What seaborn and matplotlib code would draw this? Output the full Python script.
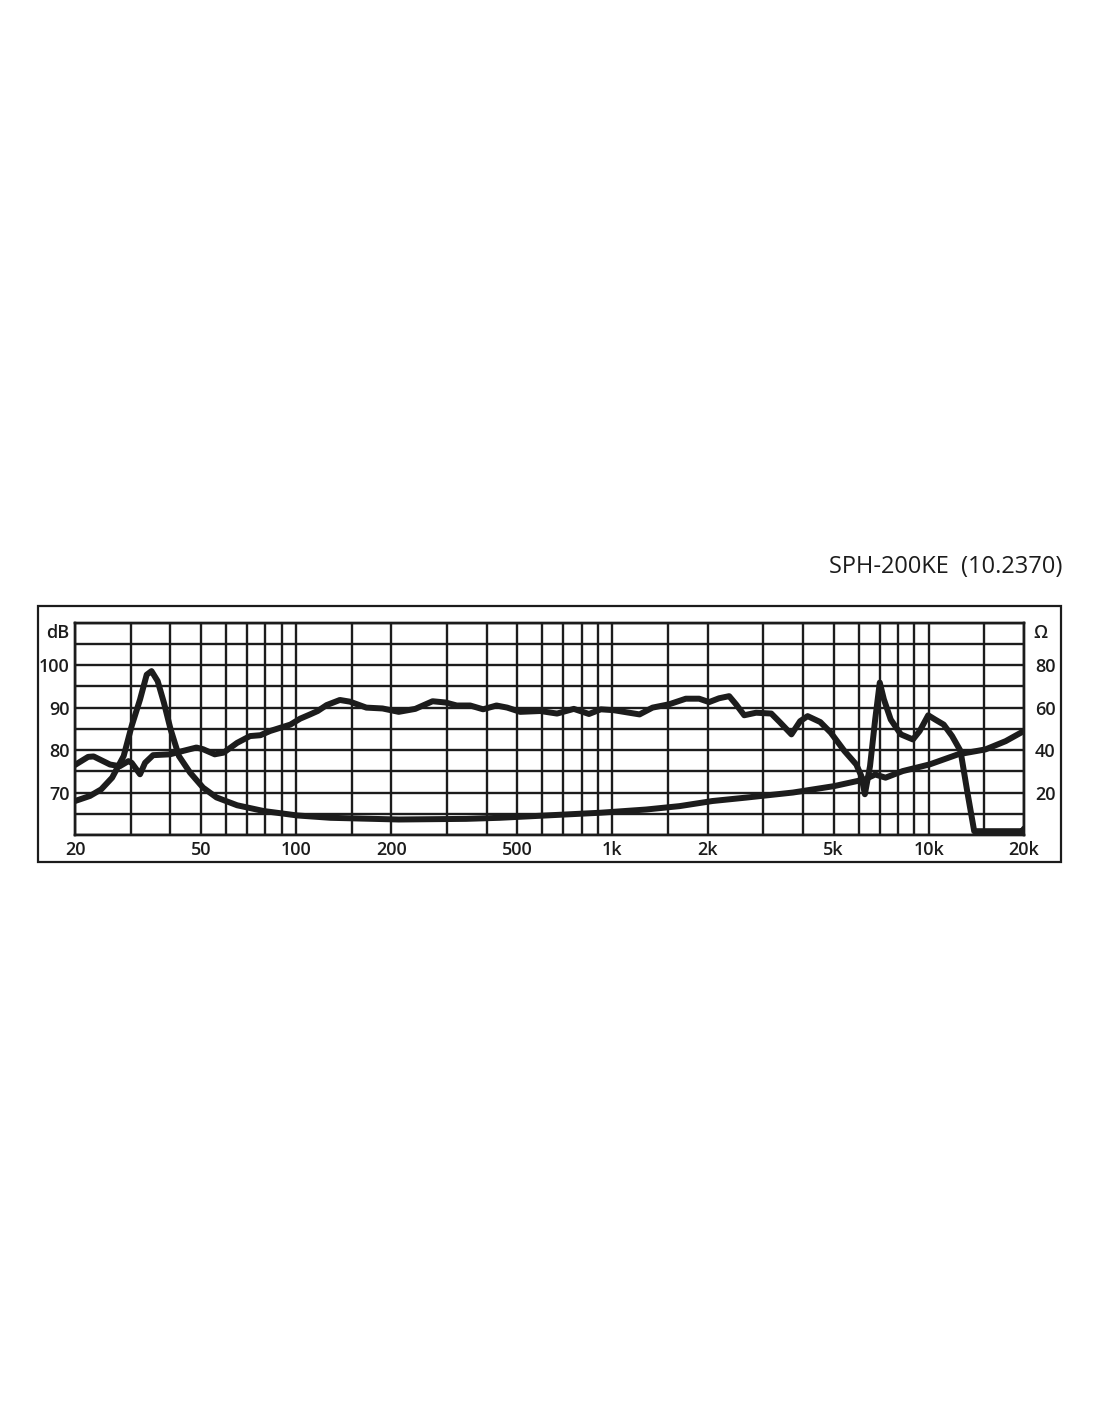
import numpy as np
import pandas as pd
import seaborn as sns
import matplotlib.pyplot as plt
from matplotlib.patches import Rectangle

# frequency response (dB SPL)
spl_freq = [20, 22, 22.9, 25.8, 27.7, 29.5, 30.2, 32.1, 33.3, 35.3, 39.9, 43.9, 48.4,
            50.8, 55.3, 59, 65.1, 71.5, 77.1, 82.8, 95.9, 103, 110.7, 117, 124.9,
            137.5, 148, 166.7, 187.6, 211, 238, 270, 297, 322, 355, 390, 430, 465,
            511, 591, 668, 755, 843, 919, 1008, 1218, 1339, 1513, 1706, 1880, 2021,
            2173, 2339, 2457, 2610, 2845, 3178, 3379, 3680, 3920, 4140, 4540, 4900,
            5410, 5900, 6120, 6280, 6520, 6770, 7000, 7210, 7580, 8160, 8910, 9360,
            9960, 10470, 11150, 11850, 12600, 13250, 13920, 19750, 20000]
spl_db = [76.5, 78.4, 78.5, 76.6, 76.2, 77.4, 77.0, 74.3, 77.0, 78.8, 79.0, 79.8, 80.6,
          80.2, 79.0, 79.4, 81.7, 83.3, 83.5, 84.5, 86.0, 87.4, 88.4, 89.2, 90.6,
          91.8, 91.4, 90.0, 89.8, 89.0, 89.7, 91.5, 91.2, 90.5, 90.5, 89.6, 90.5, 90.0,
          89.0, 89.2, 88.6, 89.7, 88.5, 89.6, 89.4, 88.4, 90.0, 90.8, 92.1, 92.1, 91.3,
          92.2, 92.7, 90.8, 88.2, 88.8, 88.6, 86.6, 83.7, 86.8, 88.0, 86.6, 84.1,
          79.8, 76.6, 73.9, 69.6, 76.2, 87.2, 95.9, 92.0, 87.2, 83.7, 82.5, 84.5,
          88.2, 87.2, 86.0, 83.3, 79.8, 70.0, 60.9, 60.9, 61.5]

# impedance (ohm)
imp_freq = [20, 22.3, 24.2, 26.2, 28.5, 30.2, 32.1, 33.7, 34.9, 36.5, 38.2, 40.1, 42.6,
            46.2, 50.8, 56, 65.1, 78.9, 100.9, 128.5, 211, 345, 440, 563, 719, 919,
            1277, 1630, 2070, 2640, 3720, 5010, 6280, 6770, 7300, 8270, 10090, 12380,
            15100, 17500, 20000]
imp_ohm = [16.0, 18.4, 21.5, 27.0, 37.2, 51.3, 63.8, 75.5, 77.2, 72.5, 62.3, 49.8, 37.2,
           29.4, 22.3, 17.7, 14.0, 11.3, 9.2, 8.1, 7.3, 7.6, 8.1, 8.9, 9.7, 10.5,
           12.0, 13.6, 16.0, 17.6, 20.0, 23.0, 26.2, 28.5, 27.0, 30.1, 33.3, 38.0,
           40.3, 44.2, 49.0]

x_ticks = [20, 50, 100, 200, 500, 1000, 2000, 5000, 10000, 20000]
x_labels = ["20", "50", "100", "200", "500", "1k", "2k", "5k", "10k", "20k"]
grid_freqs = [20, 30, 40, 50, 60, 70, 80, 90, 100, 150, 200, 300, 400, 500, 600, 700,
              800, 900, 1000, 1500, 2000, 3000, 4000, 5000, 6000, 7000, 8000, 9000,
              10000, 15000, 20000]
db_ticks = [70, 80, 90, 100]
ohm_ticks = [20, 40, 60, 80]

sns.set_style("white")
plt.rcParams['font.family'] = ['Open Sans', 'DejaVu Sans']

ink = "#1c1c1c"
fig = plt.figure(figsize=(11, 14.22), dpi=100)
ax = fig.add_axes([0.0682, 0.4128, 0.8627, 0.1493])

spl = pd.DataFrame({"freq": spl_freq, "db": spl_db})
imp = pd.DataFrame({"freq": imp_freq, "ohm": imp_ohm})

ax.set_xscale("log")
ax.set_xlim(20, 20000)
ax.set_ylim(60, 110)

for f in grid_freqs:
    ax.axvline(f, color=ink, lw=1.7, zorder=1)
for d in range(60, 111, 5):
    ax.axhline(d, color=ink, lw=1.7, zorder=1)

sns.lineplot(data=spl, x="freq", y="db", ax=ax, color=ink, lw=4.3, zorder=3,
             solid_joinstyle="round", solid_capstyle="round")

ax2 = ax.twinx()
ax2.set_ylim(0, 100)
sns.lineplot(data=imp, x="freq", y="ohm", ax=ax2, color=ink, lw=4.3, zorder=3,
             solid_joinstyle="round", solid_capstyle="round")
ax2.set_xscale("log")
ax2.set_xlim(20, 20000)

ax.set_xticks(x_ticks)
ax.set_xticklabels(x_labels)
ax.xaxis.set_minor_locator(plt.NullLocator())
ax.set_yticks(db_ticks)
ax2.set_yticks(ohm_ticks)
tick_font = dict(fontsize=13, fontweight="semibold")
ax.tick_params(axis="both", length=0, labelsize=13, colors=ink, pad=4)
ax2.tick_params(axis="y", length=0, labelsize=13, colors=ink, pad=8)
for lab in ax.get_xticklabels() + ax.get_yticklabels() + ax2.get_yticklabels():
    lab.set_fontweight("semibold")
ax.set_xlabel("")
ax.set_ylabel("")
ax2.set_ylabel("")
for a in (ax, ax2):
    for s in a.spines.values():
        s.set_linewidth(1.7)
        s.set_color(ink)

ax.text(-0.006, 107.5, "dB", transform=ax.get_yaxis_transform(), ha="right",
        va="center", color=ink, **tick_font)
ax2.text(1.010, 95.0, "Ω", transform=ax2.get_yaxis_transform(), ha="left",
         va="center", color=ink, **tick_font)

fig.patches.append(Rectangle((0.0345, 0.3938), 0.93, 0.18, transform=fig.transFigure,
                             fill=False, lw=1.6, edgecolor=ink))
fig.text(0.9655, 0.6015, "SPH-200KE  (10.2370)", ha="right", va="center",
         fontsize=17, color=ink)

fig.savefig("out.png", dpi=100, facecolor="white")
